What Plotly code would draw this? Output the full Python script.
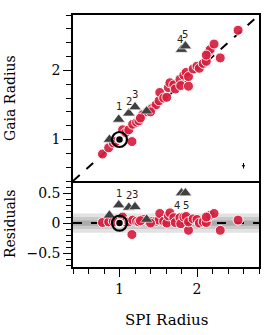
import plotly.graph_objects as go
from plotly.subplots import make_subplots

# Red points: SPI radius vs Gaia radius
spi = [0.78, 0.86, 0.92, 0.95, 1.16, 1.04, 1.08, 1.12, 1.17, 1.22, 1.25, 1.30, 1.36,
       1.42, 1.47, 1.51, 1.52, 1.57, 1.61, 1.63, 1.65, 1.70, 1.72, 1.78, 1.79, 1.83,
       1.89, 1.86, 1.89, 1.95, 2.00, 2.03, 2.08, 2.12, 2.15, 2.17, 2.22, 2.30, 2.53,
       1.40, 1.27, 2.12]
gaia = [0.79, 0.88, 0.95, 0.97, 0.97, 1.14, 1.10, 1.14, 1.22, 1.25, 1.27, 1.36, 1.40,
        1.45, 1.50, 1.56, 1.68, 1.60, 1.61, 1.75, 1.82, 1.79, 1.73, 1.87, 1.78, 1.93,
        1.77, 1.97, 1.91, 2.02, 2.06, 2.03, 2.10, 2.13, 2.26, 2.30, 2.38, 2.18, 2.58,
        1.40, 1.31, 2.22]

# Dark triangles (labelled outliers)
tri_spi = [0.99, 1.12, 1.20, 1.80, 1.85, 0.87, 1.35]
tri_gaia = [1.29, 1.38, 1.47, 2.30, 2.35, 1.00, 1.41]
tri_labels = ["1", "2", "3", "4", "5", "", ""]

# Reference star (Sun)
ref_spi = [1.0]
ref_gaia = [1.0]

# Typical error bar
err_x = [2.6]
err_y = [0.62]
err_dx = [0.02]
err_dy = [0.04]

res = [g - s for g, s in zip(gaia, spi)]
tri_res = [g - s for g, s in zip(tri_gaia, tri_spi)]
ref_res = [g - s for g, s in zip(ref_gaia, ref_spi)]

RED = "#d61f3e"
TRI = "#404040"
SERIF = "DejaVu Serif"

fig = make_subplots(rows=2, cols=1, shared_xaxes=True, vertical_spacing=0,
                    row_heights=[166, 86])

# bands in residual panel
for half, col in [(0.16, "#e2e2e2"), (0.10, "#c9c9c9"), (0.045, "#ababab")]:
    fig.add_shape(type="rect", xref="x2 domain", yref="y2", x0=0, x1=1,
                  y0=-half, y1=half, fillcolor=col, line_width=0, layer="below")

# diagonal and zero line
fig.add_trace(go.Scatter(x=[0.4, 2.8], y=[0.4, 2.8], mode="lines",
                         line=dict(color="black", width=2, dash="dash"),
                         showlegend=False, hoverinfo="skip"), row=1, col=1)
fig.add_trace(go.Scatter(x=[0.4, 2.8], y=[0, 0], mode="lines",
                         line=dict(color="black", width=2, dash="dash"),
                         showlegend=False, hoverinfo="skip"), row=2, col=1)

for row, yv, tv, rv in [(1, gaia, tri_gaia, ref_gaia), (2, res, tri_res, ref_res)]:
    fig.add_trace(go.Scatter(x=spi, y=yv, mode="markers",
                             marker=dict(color=RED, size=10, opacity=0.92,
                                         line=dict(color="white", width=1)),
                             showlegend=False), row=row, col=1)
    fig.add_trace(go.Scatter(x=tri_spi, y=tv, mode="markers",
                             marker=dict(symbol="triangle-up", color=TRI, size=11,
                                         line=dict(color="white", width=0.6)),
                             showlegend=False), row=row, col=1)
    fig.add_trace(go.Scatter(x=ref_spi, y=rv, mode="markers",
                             marker=dict(symbol="circle-open", color="black", size=15,
                                         line=dict(color="black", width=2.2)),
                             showlegend=False), row=row, col=1)
    fig.add_trace(go.Scatter(x=ref_spi, y=rv, mode="markers",
                             marker=dict(color="black", size=8,
                                         line=dict(color="white", width=1.5)),
                             showlegend=False), row=row, col=1)

fig.add_trace(go.Scatter(x=err_x, y=err_y, mode="markers",
                         marker=dict(color="black", size=2),
                         error_x=dict(type="data", array=err_dx, color="black", thickness=1, width=0),
                         error_y=dict(type="data", array=err_dy, color="black", thickness=1, width=0),
                         showlegend=False), row=1, col=1)

# number labels
main_shift = [(0, 13), (0, 12), (0, 12), (-2, 10), (0, 12)]
res_shift = [(0, 12), (0, 12), (0, 12), (-5, -12), (1, -12)]
for i, lab in enumerate(tri_labels):
    if not lab:
        continue
    fig.add_annotation(x=tri_spi[i], y=tri_gaia[i], xref="x", yref="y", text=lab,
                       showarrow=False, xshift=main_shift[i][0], yshift=main_shift[i][1],
                       font=dict(family="DejaVu Sans", size=10, color="#222"))
    fig.add_annotation(x=tri_spi[i], y=tri_res[i], xref="x2", yref="y2", text=lab,
                       showarrow=False, xshift=res_shift[i][0], yshift=res_shift[i][1],
                       font=dict(family="DejaVu Sans", size=10, color="#222"))

axis_common = dict(showline=True, linecolor="black", linewidth=1.5,
                   showgrid=False, zeroline=False,
                   tickfont=dict(family=SERIF, size=14, color="black"))

fig.update_xaxes(range=[0.4, 2.8], **axis_common)
fig.update_xaxes(ticks="", showticklabels=False, mirror=True, row=1, col=1)
fig.update_xaxes(ticks="outside", ticklen=8, tickwidth=1.2, tickcolor="black",
                 tickvals=[1, 2], ticktext=["1", "2"], mirror=False,
                 minor=dict(dtick=0.2, tick0=0.4, ticks="outside", ticklen=5,
                            tickcolor="black", tickwidth=1.2),
                 row=2, col=1)
fig.update_yaxes(range=[0.4, 2.8], ticks="outside", ticklen=8, tickwidth=1.2,
                 tickcolor="black", tickvals=[1, 2], ticktext=["1", "2"], mirror=True,
                 minor=dict(dtick=0.2, tick0=0.4, ticks="outside", ticklen=5,
                            tickcolor="black", tickwidth=1.2),
                 row=1, col=1, **axis_common)
fig.update_yaxes(range=[-0.73, 0.7], ticks="outside", ticklen=8, tickwidth=1.2,
                 tickcolor="black", tickvals=[-0.5, 0, 0.5], mirror=True,
                 ticktext=["\u22120.5", "0", "0.5"],
                 minor=dict(dtick=0.1, tick0=0, ticks="outside", ticklen=5,
                            tickcolor="black", tickwidth=1.2),
                 row=2, col=1, **axis_common)

# axis titles as annotations
fig.add_annotation(text="Gaia Radius", xref="paper", yref="y domain", x=0, y=0.5,
                   xanchor="center", yanchor="middle", xshift=-63, textangle=-90,
                   showarrow=False, font=dict(family=SERIF, size=14, color="black"))
fig.add_annotation(text="Residuals", xref="paper", yref="y2 domain", x=0, y=0.5,
                   xanchor="center", yanchor="middle", xshift=-63, textangle=-90,
                   showarrow=False, font=dict(family=SERIF, size=14, color="black"))
fig.add_annotation(text="SPI Radius", xref="paper", yref="paper", x=0.5, y=0,
                   xanchor="center", yanchor="middle", yshift=-53,
                   showarrow=False, font=dict(family=SERIF, size=15, color="black"))

fig.update_layout(width=274, height=335, margin=dict(l=73, r=15, t=15, b=68),
                  plot_bgcolor="white", paper_bgcolor="white", showlegend=False)

fig.write_html("out.html", config={"displayModeBar": False},
               post_script="document.body.style.margin='0';document.body.style.overflow='hidden';")
